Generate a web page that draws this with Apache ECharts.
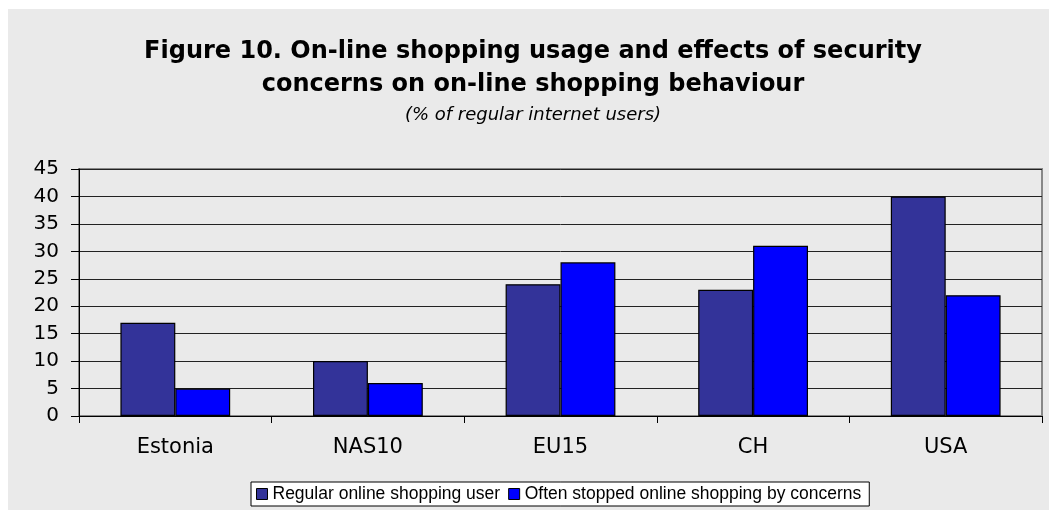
<!DOCTYPE html>
<html>
<head>
<meta charset="utf-8">
<script src="https://cdn.jsdelivr.net/npm/echarts@6/dist/echarts.min.js"></script>
<style>
html,body{margin:0;padding:0;background:#ffffff;}
#chart{width:1049px;height:511px;}
</style>
</head>
<body>
<div id="chart"></div>
<script>
const categories = ['Estonia', 'NAS10', 'EU15', 'CH', 'USA'];
const regularUsers = [17, 10, 24, 23, 40];
const stoppedByConcerns = [5, 6, 28, 31, 22];
const seriesNames = ['Regular online shopping user', 'Often stopped online shopping by concerns'];
const titleLines = ['Figure 10. On-line shopping usage and effects of security', 'concerns on on-line shopping behaviour'];
const subtitleText = '(% of regular internet users)';

const chart = echarts.init(document.getElementById('chart'), null, {renderer: 'canvas'});
const wide = '"DejaVu Sans", Verdana, sans-serif';
const arial = '"Liberation Sans", Arial, sans-serif';
chart.setOption({
  animation: false,
  backgroundColor: '#ffffff',
  graphic: [
    {type: 'rect', z: -10, shape: {x: 8, y: 9, width: 1041, height: 501}, style: {fill: '#eaeaea'}}
  ],
  title: [
    {text: titleLines.join('\n'), left: 528, top: 30, textAlign: 'center',
     textStyle: {fontFamily: wide, fontWeight: 'bold', fontSize: 24, color: '#000', lineHeight: 33}},
    {text: subtitleText, left: 528, top: 101, textAlign: 'center',
     textStyle: {fontFamily: wide, fontStyle: 'italic', fontWeight: 'normal', fontSize: 18, color: '#000', lineHeight: 18}}
  ],
  legend: {
    data: seriesNames,
    left: 251, top: 482,
    backgroundColor: '#ffffff', borderColor: '#000', borderWidth: 1,
    padding: [3, 8, 3, 5],
    itemWidth: 11, itemHeight: 11, itemGap: 8,
    icon: 'rect',
    itemStyle: {borderColor: '#000', borderWidth: 1},
    textStyle: {fontFamily: arial, fontSize: 17.5, color: '#000'}
  },
  grid: {left: 79, right: 7, top: 169, bottom: 95, show: true, borderColor: '#888', borderWidth: 2, backgroundColor: 'transparent'},
  xAxis: {
    type: 'category', data: categories,
    axisLine: {lineStyle: {color: '#000', width: 1}},
    axisTick: {show: true, length: 7, lineStyle: {color: '#000'}},
    axisLabel: {fontFamily: wide, fontSize: 21, color: '#000', margin: 21}
  },
  yAxis: {
    type: 'value', min: 0, max: 45, interval: 5,
    axisLine: {show: true, lineStyle: {color: '#000', width: 1}},
    axisTick: {show: true, length: 8, lineStyle: {color: '#000'}},
    axisLabel: {fontFamily: wide, fontSize: 20, color: '#000', margin: 20},
    splitLine: {lineStyle: {color: '#222', width: 1}}
  },
  series: [
    {name: seriesNames[0], type: 'bar', data: regularUsers, barGap: '0%', barCategoryGap: '43%',
     itemStyle: {color: '#333399', borderColor: '#000', borderWidth: 1.2}},
    {name: seriesNames[1], type: 'bar', data: stoppedByConcerns, barGap: '0%', barCategoryGap: '43%',
     itemStyle: {color: '#0000ff', borderColor: '#000', borderWidth: 1.2}}
  ]
});
</script>
</body>
</html>
